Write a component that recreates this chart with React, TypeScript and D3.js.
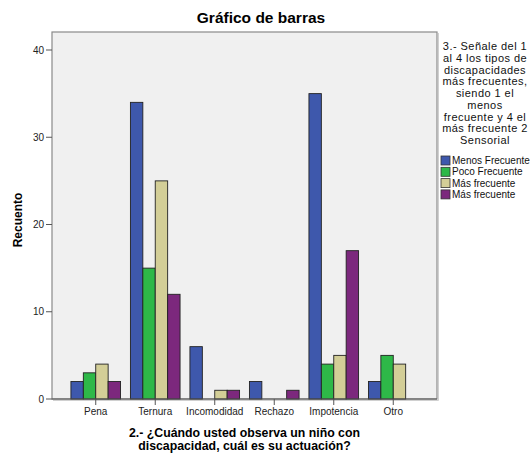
import React from "react";
import * as d3 from "d3";

const categories = ["Pena", "Ternura", "Incomodidad", "Rechazo", "Impotencia", "Otro"];
const seriesNames = ["Menos Frecuente", "Poco Frecuente", "Más frecuente", "Más frecuente"];
const seriesKeys = ["s1", "s2", "s3", "s4"];
const seriesColors = ["#3E58AC", "#2EB848", "#D3CE97", "#7C287D"];
const menosFrecuente = [2, 34, 6, 2, 35, 2];
const pocoFrecuente = [3, 15, 0, 0, 4, 5];
const masFrecuente3 = [4, 25, 1, 0, 5, 4];
const masFrecuente4 = [2, 12, 1, 1, 17, 0];
const yTicks = [0, 10, 20, 30, 40];
const legendTitle = [
  "3.- Señale del 1",
  "al 4 los tipos de",
  "discapacidades",
  "más frecuentes,",
  "siendo 1 el",
  "menos",
  "frecuente y 4 el",
  "más frecuente 2",
  "Sensorial",
];
const chartTitle = "Gráfico de barras";
const yTitle = "Recuento";
const xTitle = ["2.- ¿Cuándo usted observa un niño con", "discapacidad, cuál es su actuación?"];

const seriesValues = [menosFrecuente, pocoFrecuente, masFrecuente3, masFrecuente4];

export default function App() {
  const W = 532, H = 453;
  const left = 52, right = 437, top = 32, bottom = 399;
  const font = "Liberation Sans, Arial, sans-serif";

  const x0 = d3.scaleBand<string>().domain(categories).range([left, right]).paddingInner(0.166).paddingOuter(0.318);
  const x1 = d3.scaleBand<string>().domain(seriesKeys).range([0, x0.bandwidth()]).padding(0);
  const y = d3.scaleLinear().domain([0, 40]).range([bottom, 50]);

  return (
    <svg width={W} height={H} style={{ position: "absolute", left: 0, top: 0, background: "#fff" }} fontFamily={font}>
      <rect x={0} y={0} width={W} height={H} fill="#fff" />
      <text x={261} y={23} textAnchor="middle" fontSize={15.5} fontWeight="bold" fill="#000">{chartTitle}</text>
      {/* plot frame */}
      <line x1={right + 1.5} y1={top + 1} x2={right + 1.5} y2={bottom + 1.5} stroke="#d0d0d0" strokeWidth={1} />
      <line x1={left + 1} y1={bottom + 1.5} x2={right + 1.5} y2={bottom + 1.5} stroke="#d0d0d0" strokeWidth={1} />
      <rect x={left} y={top} width={right - left} height={bottom - top} fill="#F0F0F0" stroke="#8a8a8a" strokeWidth={1.2} />
      {/* bars */}
      {categories.map((c, ci) => (
        <g key={c}>
          {seriesKeys.map((k, si) => {
            const v = seriesValues[si][ci];
            if (!v) return null;
            const bx = (x0(c) as number) + (x1(k) as number);
            return (
              <rect key={k} x={bx} y={y(v)} width={x1.bandwidth()} height={y(0) - y(v)}
                fill={seriesColors[si]} stroke="#222" strokeWidth={0.9} />
            );
          })}
        </g>
      ))}
      {/* baseline */}
      <line x1={left} y1={bottom} x2={right} y2={bottom} stroke="#555" strokeWidth={1.2} />
      {/* y axis */}
      {yTicks.map((t) => (
        <g key={t}>
          <line x1={left - 6} y1={y(t)} x2={left} y2={y(t)} stroke="#555" strokeWidth={1} />
          <text x={left - 8} y={y(t) + 3.5} textAnchor="end" fontSize={10} fill="#222">{t}</text>
        </g>
      ))}
      <text transform={`translate(22,220) rotate(-90)`} textAnchor="middle" fontSize={12} fontWeight="bold" fill="#000">{yTitle}</text>
      {/* x axis */}
      {categories.map((c) => {
        const cx = (x0(c) as number) + x0.bandwidth() / 2;
        return (
          <g key={c}>
            <line x1={cx} y1={bottom} x2={cx} y2={bottom + 6} stroke="#555" strokeWidth={1} />
            <text x={cx} y={bottom + 16} textAnchor="middle" fontSize={10} fill="#222">{c}</text>
          </g>
        );
      })}
      {xTitle.map((t, i) => (
        <text key={i} x={(left + right) / 2} y={437 + i * 12.5} textAnchor="middle" fontSize={12.3} fontWeight="bold" fill="#000">{t}</text>
      ))}
      {/* legend */}
      {legendTitle.map((t, i) => (
        <text key={i} x={485} y={50 + i * 11.75} textAnchor="middle" fontSize={11} letterSpacing={0.45} fill="#111">{t}</text>
      ))}
      {seriesNames.map((n, i) => (
        <g key={i}>
          <rect x={441} y={156 + i * 11.3} width={9} height={9} fill={seriesColors[i]} stroke="#333" strokeWidth={0.8} />
          <text x={452} y={164 + i * 11.3} fontSize={10} fill="#111">{n}</text>
        </g>
      ))}
    </svg>
  );
}
